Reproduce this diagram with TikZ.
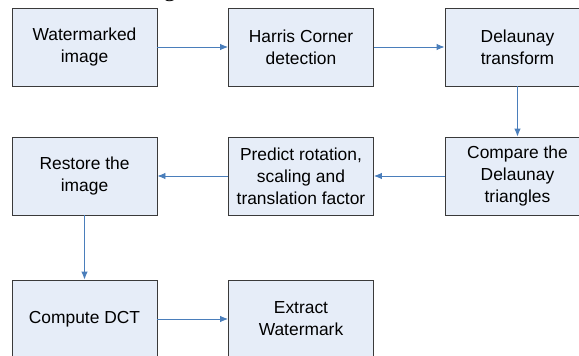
\documentclass[tikz,border=0pt]{standalone}
\usepackage{fontspec}
\setmainfont{Liberation Sans}
\newfontfamily\captionserif{Liberation Serif}
\usetikzlibrary{arrows.meta}
\definecolor{boxfill}{HTML}{E6EDF8}
\definecolor{boxline}{HTML}{3A3A3A}
\definecolor{arrowblue}{HTML}{4A7EBB}
\tikzset{
  stepbox/.style={draw=boxline, line width=0.9pt, fill=boxfill, minimum width=145pt, minimum height=78pt,
    inner sep=0pt, align=center, font=\fontsize{17.4}{22}\selectfont, text=black},
  flow/.style={draw=arrowblue, line width=0.9pt, -{Latex[length=8pt,width=6.5pt]}}
}
\begin{document}
\begin{tikzpicture}[x=1pt,y=1pt]
\useasboundingbox (0,0) rectangle (579,-356);
\clip (0,0) rectangle (579,-356);
\node[anchor=base east, inner sep=0pt, font=\captionserif\fontsize{24}{28}\selectfont] (cap) at (200,3) {re is shown in fig 4.};
\node[stepbox] (wm) at (84.5,-47) {Watermarked\\image};
\node[stepbox] (hc) at (301,-47) {Harris Corner\\detection};
\node[stepbox] (dt) at (517.5,-47) {Delaunay\\transform};
\node[stepbox] (cd) at (517.5,-176) {Compare the\\Delaunay\\triangles};
\node[stepbox] (pr) at (301,-176) {Predict rotation,\\scaling and\\translation factor};
\node[stepbox] (ri) at (84.5,-176) {Restore the\\image};
\node[stepbox] (dct) at (84.5,-319) {Compute DCT};
\node[stepbox] (ew) at (301,-319) {Extract\\Watermark};
\draw[flow] (wm) -- (hc);
\draw[flow] (hc) -- (dt);
\draw[flow] (dt) -- (cd);
\draw[flow] (cd) -- (pr);
\draw[flow] (pr) -- (ri);
\draw[flow] (ri) -- (dct);
\draw[flow] (dct) -- (ew);
\end{tikzpicture}
\end{document}
